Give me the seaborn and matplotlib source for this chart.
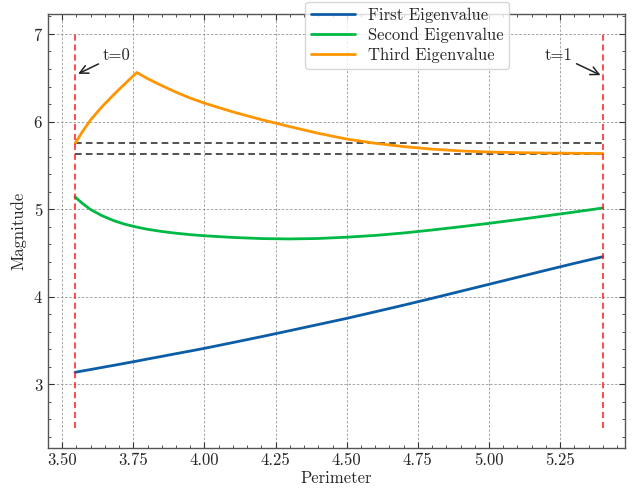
import numpy as np
import pandas as pd
import seaborn as sns
import matplotlib
matplotlib.use("Agg")
import matplotlib.pyplot as plt
from matplotlib.ticker import AutoMinorLocator, MultipleLocator, FormatStrFormatter

# ---- data ----
perimeter = [3.545, 3.57, 3.60, 3.64, 3.68, 3.72, 3.762, 3.80, 3.85, 3.90, 3.95, 4.00,
             4.10, 4.20, 4.30, 4.40, 4.50, 4.60, 4.70, 4.80, 4.90, 5.00, 5.10, 5.20,
             5.30, 5.40]
first_eig = [3.137, 3.152, 3.169, 3.193, 3.216, 3.240, 3.265, 3.289, 3.319, 3.350, 3.380,
             3.411, 3.477, 3.544, 3.613, 3.683, 3.753, 3.828, 3.904, 3.982, 4.062, 4.142,
             4.222, 4.302, 4.381, 4.457]
second_eig = [5.140, 5.068, 4.995, 4.925, 4.870, 4.828, 4.795, 4.770, 4.745, 4.725, 4.709,
              4.696, 4.677, 4.664, 4.660, 4.665, 4.680, 4.700, 4.728, 4.762, 4.799, 4.838,
              4.880, 4.923, 4.967, 5.013]
third_eig = [5.750, 5.880, 6.020, 6.170, 6.304, 6.430, 6.560, 6.490, 6.410, 6.335, 6.268,
             6.210, 6.110, 6.022, 5.942, 5.866, 5.800, 5.752, 5.714, 5.685, 5.665, 5.652,
             5.645, 5.641, 5.638, 5.635]
series_names = ["First Eigenvalue", "Second Eigenvalue", "Third Eigenvalue"]
series_colors = ["#0C5DA5", "#00B945", "#FF9500"]
ref_levels = [5.750, 5.635]
t_lines = [3.545, 5.40]
t_labels = ["t=0", "t=1"]

sns.set_style("ticks")
plt.rcParams["font.family"] = ["cmr10", "DejaVu Serif"]
plt.rcParams["axes.formatter.use_mathtext"] = True
plt.rcParams["mathtext.fontset"] = "cm"

fig = plt.figure(figsize=(6.32, 4.91), dpi=100)
ax = fig.add_axes([48 / 632, 43 / 491, 577 / 632, 434 / 491])

rows = []
for name, vals in zip(series_names, [first_eig, second_eig, third_eig]):
    for p, v in zip(perimeter, vals):
        rows.append({"Perimeter": p, "Magnitude": v, "series": name})
df = pd.DataFrame(rows)

sns.lineplot(data=df, x="Perimeter", y="Magnitude", hue="series",
             palette=series_colors, hue_order=series_names, linewidth=2.0,
             ax=ax, sort=True, estimator=None)
for ln in ax.get_lines():
    ln.set_solid_joinstyle("round")

for lvl in ref_levels:
    ax.hlines(lvl, t_lines[0], t_lines[1], colors="#333333", linestyles=(0, (4, 2.5)),
              linewidth=1.2, zorder=1)
for xv in t_lines:
    ax.vlines(xv, 2.5, 7.0, colors="#FF1a1a", linestyles=(0, (4, 2.5)), linewidth=1.1,
              zorder=3)

ax.annotate(t_labels[0], xy=(3.556, 6.545), xytext=(3.692, 6.76), ha="center", va="center",
            fontsize=12, arrowprops=dict(arrowstyle="->,head_length=0.5,head_width=0.25",
                                         color="#222222", lw=1.1, shrinkA=1, shrinkB=0))
ax.annotate(t_labels[1], xy=(5.392, 6.53), xytext=(5.243, 6.76), ha="center", va="center",
            fontsize=12, arrowprops=dict(arrowstyle="->,head_length=0.5,head_width=0.25",
                                         color="#222222", lw=1.1, shrinkA=1, shrinkB=0))

ax.set_xlim(3.45, 5.478)
ax.set_ylim(2.273, 7.228)
ax.xaxis.set_major_locator(MultipleLocator(0.25))
ax.yaxis.set_major_locator(MultipleLocator(1))
ax.xaxis.set_minor_locator(AutoMinorLocator(5))
ax.yaxis.set_minor_locator(AutoMinorLocator(5))
ax.xaxis.set_major_formatter(FormatStrFormatter("%.2f"))
ax.tick_params(which="both", direction="in", top=True, right=True, labelsize=12,
               color="#333333")
ax.tick_params(which="major", length=4, width=0.8)
ax.tick_params(which="minor", length=2, width=0.6)
for s in ax.spines.values():
    s.set_linewidth(1.0)
    s.set_color("#555555")
ax.grid(True, which="major", linestyle=(0, (3, 2)), color="#999999", linewidth=0.6)

ax.set_xlabel("Perimeter", fontsize=12, labelpad=2)
ax.set_ylabel("Magnitude", fontsize=12, labelpad=5)

leg = ax.legend(loc="upper center", bbox_to_anchor=(0.623, 1.028), borderaxespad=0,
                fontsize=12, frameon=True, fancybox=True, handlelength=2.6,
                labelspacing=0.25, borderpad=0.35)
leg.get_frame().set_edgecolor("#cccccc")
for line in leg.get_lines():
    line.set_linewidth(2.0)

fig.savefig("out.png", dpi=100)
